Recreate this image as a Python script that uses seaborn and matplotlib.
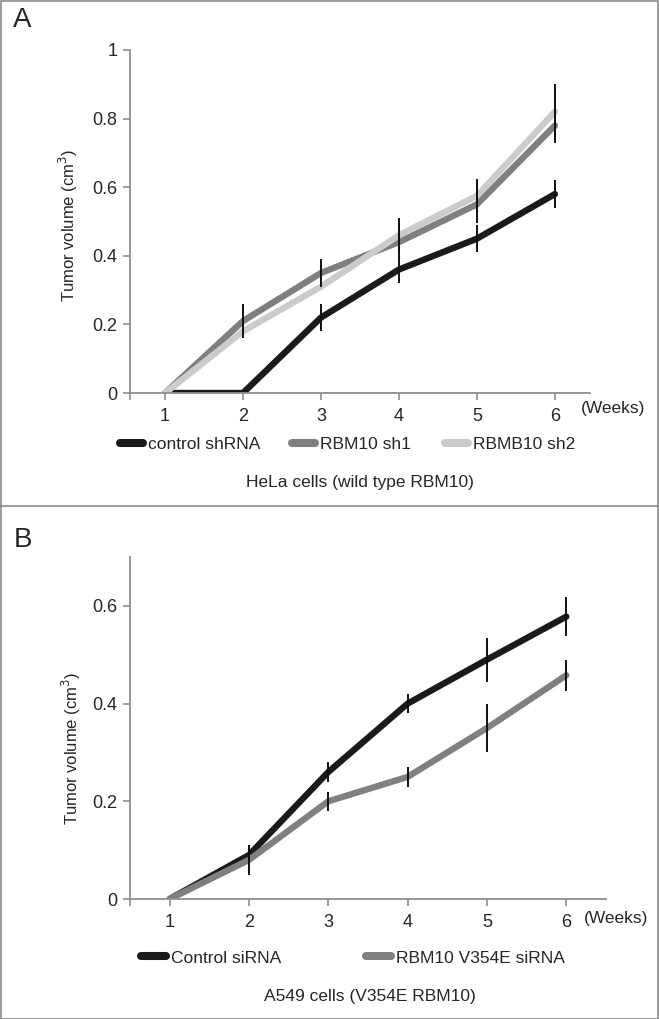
import matplotlib
matplotlib.use("Agg")
import matplotlib.pyplot as plt
from matplotlib.lines import Line2D
from matplotlib.patches import Rectangle
from matplotlib.ticker import FuncFormatter
import pandas as pd
import seaborn as sns

# ---- data ----
weeks = [1, 2, 3, 4, 5, 6]

# panel A: HeLa cells
a_groups = ["control shRNA", "RBM10 sh1", "RBMB10 sh2"]
a_control = [0.0, 0.0, 0.22, 0.36, 0.45, 0.58]
a_sh1 = [0.0, 0.21, 0.35, 0.44, 0.55, 0.78]
a_sh2 = [0.0, 0.18, 0.31, 0.46, 0.575, 0.82]
a_control_err = [0.0, 0.0, 0.04, 0.04, 0.04, 0.04]
a_sh1_err = [0.0, 0.05, 0.04, 0.05, 0.055, 0.05]
a_sh2_err = [0.0, 0.0, 0.0, 0.05, 0.05, 0.08]

# panel B: A549 cells
b_groups = ["Control siRNA", "RBM10 V354E siRNA"]
b_control = [0.0, 0.09, 0.26, 0.40, 0.49, 0.578]
b_v354e = [0.0, 0.08, 0.20, 0.25, 0.35, 0.458]
b_control_err = [0.0, 0.02, 0.02, 0.02, 0.045, 0.04]
b_v354e_err = [0.0, 0.03, 0.02, 0.02, 0.05, 0.032]

W, H = 659, 1019
GRAY_AX = "#8f8f8f"

sns.set_style("white")
plt.rcParams["font.family"] = ["Liberation Sans", "DejaVu Sans"]

fig = plt.figure(figsize=(W / 100, H / 100), dpi=100)


def fx(px):
    return px / W


def fy(py):
    return 1 - py / H


def make_long(groups, series):
    rows = []
    for g, vals in zip(groups, series):
        for w, v in zip(weeks, vals):
            rows.append({"week": w, "volume": v, "group": g})
    return pd.DataFrame(rows)


def style_axes(ax, xlim, ylim, yticks):
    ax.set_xlim(*xlim)
    ax.set_ylim(*ylim)
    ax.set_xticks(weeks)
    ax.set_xticks([xlim[0]], minor=True)
    ax.set_yticks(yticks)
    ax.yaxis.set_major_formatter(FuncFormatter(lambda v, p: f"{v:g}"))
    for s in ["top", "right"]:
        ax.spines[s].set_visible(False)
    for s in ["left", "bottom"]:
        ax.spines[s].set_color(GRAY_AX)
        ax.spines[s].set_linewidth(1.3)
    ax.tick_params(axis="both", which="both", direction="out", length=5,
                   width=1.2, color=GRAY_AX, labelsize=13, pad=4,
                   bottom=True, left=True)
    ax.tick_params(axis="x", pad=6)
    ax.set_xlabel("")
    ax.set_ylabel("Tumor volume (cm$^3$)", fontsize=12)
    ax.patch.set_alpha(0)


def draw_panel(ax, groups, series, errs, colors):
    df = make_long(groups, series)
    sns.lineplot(data=df, x="week", y="volume", hue="group", hue_order=groups,
                 palette=dict(zip(groups, colors)), linewidth=4.6,
                 legend=False, ax=ax, zorder=2,
                 solid_capstyle="round", solid_joinstyle="round")
    for vals, e in zip(series, errs):
        ax.errorbar(weeks, vals, yerr=e, fmt="none", ecolor="#111111",
                    elinewidth=1.4, capsize=0, zorder=3)


# ---- panel A ----
a_colors = ["#1a1a1a", "#7f7f7f", "#cbcbcb"]
axA = fig.add_axes([fx(130), fy(393), fx(590) - fx(130), (393 - 50) / H])
draw_panel(axA, a_groups, [a_control, a_sh1, a_sh2],
           [a_control_err, a_sh1_err, a_sh2_err], a_colors)
style_axes(axA, (0.55, 6.45), (0, 1), [0, 0.2, 0.4, 0.6, 0.8, 1.0])
axA.yaxis.set_label_coords(-0.109, 0.49)

# ---- panel B ----
b_colors = ["#1a1a1a", "#808080"]
axB = fig.add_axes([fx(130), fy(899), fx(606) - fx(130), (899 - 557) / H])
draw_panel(axB, b_groups, [b_control, b_v354e],
           [b_control_err, b_v354e_err], b_colors)
style_axes(axB, (0.5, 6.5), (0, 0.7), [0, 0.2, 0.4, 0.6])
axB.yaxis.set_label_coords(-0.099, 0.44)

# ---- legends (one entry each, placed like the original) ----
def legend_entry(label, color, x, y, hl):
    h = Line2D([], [], color=color, linewidth=5.8, solid_capstyle="round")
    fig.legend(handles=[h], labels=[label], loc="center left",
               bbox_to_anchor=(fx(x), fy(y)), frameon=False, fontsize=12.5,
               handlelength=hl, handletextpad=0.3, borderpad=0,
               borderaxespad=0)


for lab, col, x in zip(a_groups, a_colors, [120, 292, 445]):
    legend_entry(lab, col, x, 444, 1.3)
for lab, col, x in zip(b_groups, b_colors, [141, 366]):
    legend_entry(lab, col, x, 958, 1.45)

# ---- texts ----
fig.text(fx(613), fy(409), "(Weeks)", fontsize=12.5, ha="center", va="center")
fig.text(fx(616), fy(918), "(Weeks)", fontsize=12.5, ha="center", va="center")
fig.text(fx(360), fy(482), "HeLa cells (wild type RBM10)", fontsize=12.5,
         ha="center", va="center")
fig.text(fx(370), fy(997), "A549 cells (V354E RBM10)", fontsize=12.5,
         ha="center", va="center")
fig.text(fx(22), fy(20), "A", fontsize=20, ha="center", va="center")
fig.text(fx(23), fy(540), "B", fontsize=20, ha="center", va="center")

# ---- panel frames ----
fig.patches.append(Rectangle((0.5 / W, 0.5 / H), 1 - 1.5 / W, 1 - 1.5 / H,
                             transform=fig.transFigure, fill=False,
                             edgecolor="#8a8a8a", linewidth=1.2))
fig.add_artist(Line2D([0, 1], [fy(506), fy(506)], transform=fig.transFigure,
                      color="#8a8a8a", linewidth=1.2))

fig.savefig("out.png", dpi=100)
